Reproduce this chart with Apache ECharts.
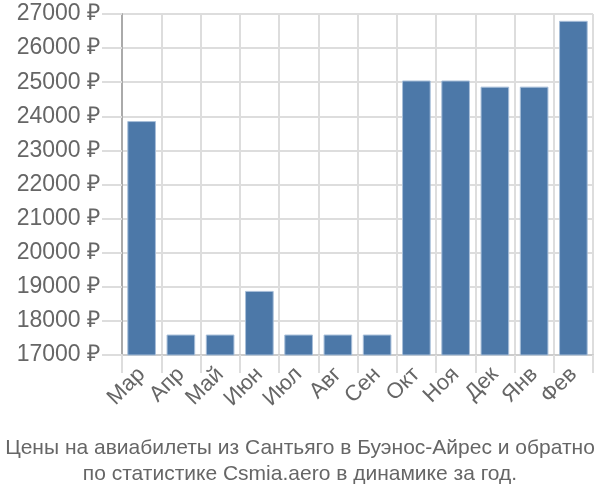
<!DOCTYPE html>
<html><head><meta charset="utf-8">
<script src="https://cdn.jsdelivr.net/npm/echarts@6/dist/echarts.min.js"></script>
<style>html,body{margin:0;padding:0;background:#fff}#c{width:600px;height:500px}</style>
</head><body><div id="c"></div>
<script>
const months = ['Мар','Апр','Май','Июн','Июл','Авг','Сен','Окт','Ноя','Дек','Янв','Фев'];
const prices = [23860, 17600, 17600, 18880, 17600, 17600, 17600, 25050, 25050, 24870, 24870, 26800];
const yMin = 17000, yMax = 27000, yStep = 1000;
const titleLines = ['Цены на авиабилеты из Сантьяго в Буэнос-Айрес и обратно', 'по статистике Csmia.aero в динамике за год.'];

const chart = echarts.init(document.getElementById('c'), null, {renderer:'canvas'});
chart.setOption({
  animation: false,
  textStyle: {fontFamily: 'Liberation Sans, Arial, sans-serif'},
  title: {
    text: titleLines.join('\n'),
    left: 'center', bottom: 8,
    textStyle: {color: '#666', fontSize: 21, fontWeight: 'normal', lineHeight: 26, fontFamily: 'Liberation Sans, Arial, sans-serif'}
  },
  grid: {left: 122, right: 7, top: 14, bottom: 145, containLabel: false},
  xAxis: {
    type: 'category', data: months, boundaryGap: true,
    axisLine: {lineStyle: {color: '#ccc', width: 2}},
    axisTick: {show: true, length: 18, lineStyle: {color: '#ddd', width: 2}},
    splitLine: {show: true, lineStyle: {color: '#ddd', width: 2}},
    axisLabel: {rotate: 45, color: '#666', fontSize: 22, margin: 16, interval: 0}
  },
  yAxis: {
    type: 'value', min: yMin, max: yMax, interval: yStep,
    axisLine: {show: true, lineStyle: {color: '#aaa', width: 2}},
    axisTick: {show: true, length: 20, lineStyle: {color: '#ddd', width: 2}},
    splitLine: {show: true, lineStyle: {color: '#ddd', width: 2}},
    axisLabel: {color: '#666', fontSize: 23, margin: 22, formatter: v => v + ' ₽'}
  },
  series: [{
    type: 'bar', data: prices, barCategoryGap: '27%',
    itemStyle: {color: '#4c78a8', borderColor: '#a8bfd9', borderWidth: 1}
  }]
});
</script></body></html>
